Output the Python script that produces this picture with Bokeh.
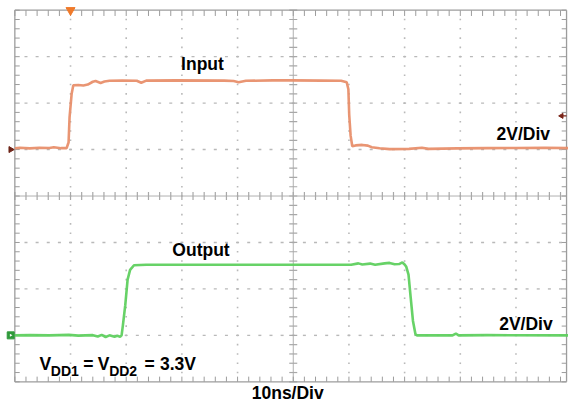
import numpy as np
from bokeh.plotting import figure
from bokeh.models import Range1d
from bokeh.embed import file_html
from bokeh.resources import INLINE
from bokeh.core.properties import value

# ---------------- data ----------------
NS_PER_DIV = 10          # 10ns/Div
V_PER_DIV = 2            # 2V/Div
N_XDIV = 10
N_YDIV = 8
IN_GROUND_DIV = 5        # channel 1 ground marker (divisions from bottom)
OUT_GROUND_DIV = 1       # channel 2 ground marker
TRIG_T = 10              # trigger position (ns)
TRIG_LEVEL_V = 1.45      # trigger level on channel 1 (V)

# Input waveform: time (ns), voltage (V)
in_t = [0.0, 0.9, 2.7, 4.4, 6.2, 7.0, 8.3, 9.3, 9.55, 9.65, 9.83, 10.2, 10.5,
        11.4, 12.3, 13.1, 14.0, 14.5, 15.4, 16.1, 17.0, 19.3, 21.9, 22.7, 23.6,
        28.9, 37.6, 39.3, 40.2, 41.5, 46.3, 49.8, 55.1, 58.6, 59.6, 59.9, 60.05,
        60.3, 60.6, 61.2, 62.4, 63.4, 64.1, 65.5, 67.3, 70.8, 73.1, 74.3, 79.5,
        84.8, 90.0, 95.2, 99.4]
in_v = [0.06, 0.08, 0.05, 0.08, 0.07, 0.10, 0.06, 0.06, 0.24, 0.30, 1.40, 2.40, 2.77,
        2.78, 2.76, 2.80, 2.92, 2.95, 2.87, 2.93, 2.96, 2.97, 2.96, 2.88, 2.97,
        2.98, 2.97, 2.95, 2.90, 2.96, 2.98, 2.98, 2.97, 2.96, 2.90, 2.60, 1.50,
        0.60, 0.14, 0.18, 0.20, 0.17, 0.10, 0.06, 0.02, 0.03, 0.08, 0.03, 0.05,
        0.06, 0.07, 0.08, 0.06]

# Output waveform: time (ns), voltage (V)
out_t = [0.0, 2.7, 6.2, 9.7, 11.4, 14.0, 14.9, 15.6, 16.3, 17.0, 17.9, 18.4, 18.9,
         19.17, 19.4, 19.83, 20.25, 20.7, 21.4, 23.6, 49.9, 60.4, 61.7, 62.4, 63.8,
         64.7, 66.4, 67.3, 68.2, 69.0, 69.6, 70.0, 70.3, 70.7, 71.1, 71.5, 71.95,
         72.2, 76.0, 78.6, 79.2, 79.7, 84.8, 99.4]
out_v = [0.00, 0.01, 0.00, 0.02, -0.01, 0.01, -0.05, 0.02, -0.07, 0.00, -0.06, -0.02, -0.06,
         0.00, 0.42, 1.30, 2.40, 2.82, 3.02, 3.04, 3.04, 3.04, 3.10, 3.05, 3.09,
         3.04, 3.10, 3.12, 3.06, 3.07, 3.14, 3.05, 2.95, 2.62, 1.60, 0.62, 0.05,
         0.00, 0.00, 0.00, 0.08, 0.00, 0.01, 0.00]

labels_channel = ["Input", "Output"]
label_scale_v = "2V/Div"
label_scale_t = "10ns/Div"
# supply label pieces: (text, is_subscript)
vdd_parts = [("V", False), ("DD1", True), ("=", False), ("V", False),
             ("DD2", True), ("=", False), ("3.3V", False)]

# ---------------- layout (picture geometry) ----------------
W, H = 568, 402
REF_W, REF_H = 584, 418          # geometry of the original screenshot
LEFT_PX, PX_PER_DIV_X = 14.75, 57.25
BOTTOM_PX, PX_PER_DIV_Y = 396.5, 48.3
PX_PER_NS = PX_PER_DIV_X / NS_PER_DIV
TEXT_SHIFT = 5.2                 # baseline correction for text glyphs


def tx(px):   # original-picture x pixel -> time axis
    return (px - LEFT_PX) / PX_PER_NS


def dy(py):   # original-picture y pixel -> divisions
    return (BOTTOM_PX - py) / PX_PER_DIV_Y


p = figure(width=W, height=H, output_backend="svg", toolbar_location=None,
           x_range=Range1d(tx(0), tx(REF_W)), y_range=Range1d(dy(REF_H), dy(0)),
           x_axis_location=None, y_axis_location=None, min_border=0)
p.grid.visible = False
p.outline_line_color = None
p.background_fill_color = "white"
p.border_fill_color = "white"

T_END = N_XDIV * NS_PER_DIV
T_RIGHT = tx(582)                 # visible right edge of the screen
minor_t = np.arange(0, T_END + 0.001, NS_PER_DIV / 5)
minor_t = minor_t[minor_t <= T_RIGHT]
minor_d = np.arange(0, N_YDIV + 0.001, 0.2)

DOT = "#b9b9b9"
BORDER = "#9c9c9c"

# dotted graticule: vertical grid lines
vx, vy = [], []
for k in range(1, N_XDIV):
    if k == N_XDIV // 2:
        continue
    for d in minor_d[1:-1]:
        vx.append(k * NS_PER_DIV)
        vy.append(d)
p.rect(vx, vy, width=1.6, height=1.6, width_units="screen", height_units="screen",
       fill_color=DOT, line_color=None)
# horizontal grid lines
hx, hy = [], []
for j in range(1, N_YDIV):
    if j == N_YDIV // 2:
        continue
    for t in minor_t[1:]:
        hx.append(t)
        hy.append(j)
p.rect(hx, hy, width=3, height=1.4, width_units="screen", height_units="screen",
       fill_color=DOT, line_color=None)

# centre cross with ticks
p.segment(x0=[0], y0=[N_YDIV / 2], x1=[T_RIGHT], y1=[N_YDIV / 2], line_color="#b0b0b0", line_width=1)
p.segment(x0=[T_END / 2], y0=[0], x1=[T_END / 2], y1=[N_YDIV], line_color="#b0b0b0", line_width=1)
p.rect(minor_t, [N_YDIV / 2] * len(minor_t), width=1.2, height=8, width_units="screen",
       height_units="screen", fill_color="#a8a8a8", line_color=None)
p.rect([T_END / 2] * len(minor_d), minor_d, width=8, height=1.2, width_units="screen",
       height_units="screen", fill_color="#a8a8a8", line_color=None)

# screen border with inward ticks
p.segment(x0=[0, 0, 0, T_RIGHT], y0=[0, N_YDIV, 0, 0], x1=[0, T_RIGHT, T_RIGHT, T_RIGHT],
          y1=[N_YDIV, N_YDIV, 0, N_YDIV], line_color=BORDER, line_width=1.3)
tick_y = 6 / PX_PER_DIV_Y
tick_x = 5 / PX_PER_NS
n_t, n_d = len(minor_t), len(minor_d)
p.segment(x0=minor_t, y0=[N_YDIV] * n_t, x1=minor_t, y1=[N_YDIV - tick_y] * n_t,
          line_color=BORDER, line_width=1)
p.segment(x0=minor_t, y0=[0] * n_t, x1=minor_t, y1=[tick_y * 0.9] * n_t,
          line_color=BORDER, line_width=1)
p.segment(x0=[0] * n_d, y0=minor_d, x1=[tick_x] * n_d, y1=minor_d,
          line_color=BORDER, line_width=1)
p.segment(x0=[T_RIGHT] * n_d, y0=minor_d, x1=[T_RIGHT - tick_x] * n_d, y1=minor_d,
          line_color=BORDER, line_width=1)

# traces
in_y = [IN_GROUND_DIV + v / V_PER_DIV for v in in_v]
out_y = [OUT_GROUND_DIV + v / V_PER_DIV for v in out_v]
p.line(in_t, in_y, line_color="#E88F6C", line_width=2.6, line_alpha=0.95)
p.line(out_t, out_y, line_color="#5FD05F", line_width=2.6, line_alpha=0.95)

# markers: trigger position / level, channel ground markers
p.scatter([TRIG_T], [N_YDIV], marker="inverted_triangle", size=9,
          fill_color="#F07A2A", line_color="#F07A2A")
trig_d = IN_GROUND_DIV + TRIG_LEVEL_V / V_PER_DIV
p.segment(x0=[T_RIGHT - 0.9], y0=[trig_d], x1=[T_RIGHT], y1=[trig_d],
          line_color="#7a2418", line_width=1.2)
p.scatter([T_RIGHT - 0.9], [trig_d], marker="triangle", angle=np.pi / 2, size=5,
          fill_color="#7a2418", line_color="#7a2418")
mk_t = tx(10.5)
p.scatter([mk_t], [IN_GROUND_DIV], marker="triangle", angle=-np.pi / 2, size=6,
          fill_color="#6e2418", line_color="#6e2418")
p.scatter([mk_t], [OUT_GROUND_DIV], marker="square", size=7,
          fill_color="#2f9a3a", line_color="#2f9a3a")
p.scatter([mk_t], [OUT_GROUND_DIV], marker="triangle", angle=-np.pi / 2, size=3,
          fill_color="white", line_color=None)

FONT = value("Liberation Sans")
MAIN, SUB = "17.5px", "14px"


def txt(xp, yp, s, size=MAIN):
    p.text(x=[tx(xp)], y=[dy(yp - TEXT_SHIFT)], text=[s], text_font=FONT,
           text_font_style="bold", text_font_size=size, text_color="black",
           text_align="left", text_baseline="alphabetic")


txt(185.7, 71.7, labels_channel[0])
txt(510.0, 144.0, label_scale_v)
txt(176.7, 265.0, labels_channel[1])
txt(512.7, 341.7, label_scale_v)
txt(258.3, 413.3, label_scale_t)

# supply label pieces placed along the baseline of the original
vdd_x = [40.0, 51.7, 85.0, 100.0, 111.7, 148.0, 164.0]
for (s, sub), xp in zip(vdd_parts, vdd_x):
    txt(xp, 390.0 if sub else 383.3, s, size=SUB if sub else MAIN)

open("out.html", "w").write(file_html(p, INLINE))
